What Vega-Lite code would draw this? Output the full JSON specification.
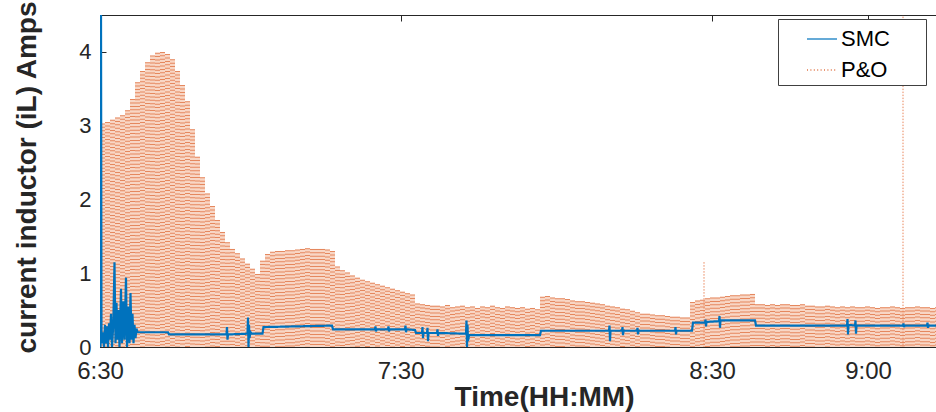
{
  "$schema": "https://vega.github.io/schema/vega-lite/v6.json",
  "width": 836,
  "height": 332,
  "autosize": {"type": "none"},
  "padding": {"left": 100, "top": 15, "right": 0, "bottom": 65},
  "background": "white",
  "datasets": {
    "po": [
      {"t":0.5,"P&O":3.03},{"t":1.5,"P&O":3.05},{"t":2.5,"P&O":3.08},{"t":3.5,"P&O":3.11},{"t":4.5,"P&O":3.14},{"t":5.5,"P&O":3.21},{"t":6.5,"P&O":3.36},{"t":7.5,"P&O":3.59},{"t":8.5,"P&O":3.74},{"t":9.5,"P&O":3.86},{"t":10.5,"P&O":3.95},{"t":11.5,"P&O":3.99},{"t":12.5,"P&O":4.0},{"t":13.5,"P&O":3.97},{"t":14.5,"P&O":3.9},{"t":15.5,"P&O":3.74},{"t":16.5,"P&O":3.55},{"t":17.5,"P&O":3.33},{"t":18.5,"P&O":2.95},{"t":19.5,"P&O":2.58},{"t":20.5,"P&O":2.3},{"t":21.5,"P&O":2.08},{"t":22.5,"P&O":1.91},{"t":23.5,"P&O":1.72},{"t":24.5,"P&O":1.56},{"t":25.5,"P&O":1.42},{"t":26.5,"P&O":1.33},{"t":27.5,"P&O":1.27},{"t":28.5,"P&O":1.2},{"t":29.5,"P&O":1.13},{"t":30.5,"P&O":1.06},{"t":31.5,"P&O":0.99},{"t":32.5,"P&O":1.17},{"t":33.5,"P&O":1.26},{"t":34.5,"P&O":1.29},{"t":35.5,"P&O":1.3},{"t":36.5,"P&O":1.3},{"t":37.5,"P&O":1.31},{"t":38.5,"P&O":1.31},{"t":39.5,"P&O":1.32},{"t":40.5,"P&O":1.33},{"t":41.5,"P&O":1.34},{"t":42.5,"P&O":1.33},{"t":43.5,"P&O":1.33},{"t":44.5,"P&O":1.33},{"t":45.5,"P&O":1.32},{"t":46.5,"P&O":1.3},{"t":47.5,"P&O":1.09},{"t":48.5,"P&O":1.04},{"t":49.5,"P&O":1.01},{"t":50.5,"P&O":0.97},{"t":51.5,"P&O":0.94},{"t":52.5,"P&O":0.91},{"t":53.5,"P&O":0.89},{"t":54.5,"P&O":0.87},{"t":55.5,"P&O":0.85},{"t":56.5,"P&O":0.83},{"t":57.5,"P&O":0.81},{"t":58.5,"P&O":0.79},{"t":59.5,"P&O":0.77},{"t":60.5,"P&O":0.75},{"t":61.5,"P&O":0.73},{"t":62.5,"P&O":0.71},{"t":63.5,"P&O":0.59},{"t":64.5,"P&O":0.58},{"t":65.5,"P&O":0.57},{"t":66.5,"P&O":0.56},
      {"t":67.5,"P&O":0.56},{"t":68.5,"P&O":0.55},{"t":69.5,"P&O":0.57},{"t":70.5,"P&O":0.54},{"t":71.5,"P&O":0.55},{"t":72.5,"P&O":0.56},{"t":73.5,"P&O":0.54},{"t":74.5,"P&O":0.55},{"t":75.5,"P&O":0.53},{"t":76.5,"P&O":0.55},{"t":77.5,"P&O":0.54},{"t":78.5,"P&O":0.56},{"t":79.5,"P&O":0.54},{"t":80.5,"P&O":0.53},{"t":81.5,"P&O":0.55},{"t":82.5,"P&O":0.54},{"t":83.5,"P&O":0.53},{"t":84.5,"P&O":0.54},{"t":85.5,"P&O":0.52},{"t":86.5,"P&O":0.53},
      {"t":87.5,"P&O":0.51},{"t":88.5,"P&O":0.68},{"t":89.5,"P&O":0.69},{"t":90.5,"P&O":0.67},{"t":91.5,"P&O":0.66},{"t":92.5,"P&O":0.66},{"t":93.5,"P&O":0.65},{"t":94.5,"P&O":0.63},{"t":95.5,"P&O":0.62},{"t":96.5,"P&O":0.62},{"t":97.5,"P&O":0.61},{"t":98.5,"P&O":0.6},{"t":99.5,"P&O":0.59},{"t":100.5,"P&O":0.58},{"t":101.5,"P&O":0.56},{"t":102.5,"P&O":0.55},{"t":103.5,"P&O":0.54},{"t":104.5,"P&O":0.52},{"t":105.5,"P&O":0.51},{"t":106.5,"P&O":0.49},{"t":107.5,"P&O":0.47},{"t":108.5,"P&O":0.45},{"t":109.5,"P&O":0.45},{"t":110.5,"P&O":0.44},{"t":111.5,"P&O":0.43},{"t":112.5,"P&O":0.43},{"t":113.5,"P&O":0.42},{"t":114.5,"P&O":0.41},{"t":115.5,"P&O":0.41},{"t":116.5,"P&O":0.4},{"t":117.5,"P&O":0.4},{"t":118.5,"P&O":0.61},{"t":119.5,"P&O":0.63},{"t":120.5,"P&O":0.64},{"t":121.5,"P&O":0.66},{"t":122.5,"P&O":0.67},{"t":123.5,"P&O":0.67},{"t":124.5,"P&O":0.68},{"t":125.5,"P&O":0.69},{"t":126.5,"P&O":0.7},{"t":127.5,"P&O":0.7},{"t":128.5,"P&O":0.71},{"t":129.5,"P&O":0.71},{"t":130.5,"P&O":0.72},{"t":131.5,"P&O":0.58},
      {"t":132.5,"P&O":0.58},{"t":133.5,"P&O":0.57},{"t":134.5,"P&O":0.58},{"t":135.5,"P&O":0.57},{"t":136.5,"P&O":0.58},{"t":137.5,"P&O":0.58},{"t":138.5,"P&O":0.57},{"t":139.5,"P&O":0.57},{"t":140.5,"P&O":0.58},{"t":141.5,"P&O":0.56},{"t":142.5,"P&O":0.56},{"t":143.5,"P&O":0.55},{"t":144.5,"P&O":0.55},{"t":145.5,"P&O":0.56},{"t":146.5,"P&O":0.55},{"t":147.5,"P&O":0.54},{"t":148.5,"P&O":0.55},{"t":149.5,"P&O":0.54},{"t":150.5,"P&O":0.55},{"t":151.5,"P&O":0.54},{"t":152.5,"P&O":0.54},{"t":153.5,"P&O":0.55},{"t":154.5,"P&O":0.54},{"t":155.5,"P&O":0.53},{"t":156.5,"P&O":0.54},{"t":157.5,"P&O":0.54},{"t":158.5,"P&O":0.55},{"t":159.5,"P&O":0.54},{"t":160.5,"P&O":0.53},{"t":161.5,"P&O":0.54},{"t":162.5,"P&O":0.54},{"t":163.5,"P&O":0.55},{"t":164.5,"P&O":0.54},{"t":165.5,"P&O":0.54},{"t":166.5,"P&O":0.53},{"t":167.5,"P&O":0.54}
    ],
    "spk": [
      {"t":120.8,"v":1.15},{"t":160.6,"v":4.6}
    ],
    "smc": [
      {"t":0.0,"SMC":4.6},{"t":0.1,"SMC":0.0},{"t":0.2,"SMC":4.6},{"t":0.3,"SMC":0.05},{"t":0.6,"SMC":0.2},{"t":0.8,"SMC":0.0},{"t":1.0,"SMC":0.3},{"t":1.2,"SMC":0.05},{"t":1.4,"SMC":0.28},{"t":1.6,"SMC":0.0},{"t":1.8,"SMC":0.32},{"t":2.0,"SMC":0.1},{"t":2.2,"SMC":0.45},{"t":2.4,"SMC":0.0},{"t":2.66,"SMC":0.3},{"t":2.9,"SMC":1.15},{"t":3.1,"SMC":0.05},{"t":3.3,"SMC":0.6},{"t":3.5,"SMC":0.1},{"t":3.7,"SMC":0.5},{"t":3.9,"SMC":0.0},{"t":4.2,"SMC":0.79},{"t":4.4,"SMC":0.05},{"t":4.7,"SMC":0.62},{"t":4.9,"SMC":0.1},{"t":5.2,"SMC":0.94},{"t":5.4,"SMC":0.0},{"t":5.7,"SMC":0.55},{"t":5.9,"SMC":0.05},{"t":6.1,"SMC":0.73},{"t":6.3,"SMC":0.1},{"t":6.5,"SMC":0.45},{"t":6.7,"SMC":0.05},{"t":6.9,"SMC":0.3},{"t":7.1,"SMC":0.12},{"t":7.3,"SMC":0.25},{"t":7.5,"SMC":0.2},
      {"t":13.6,"SMC":0.2},{"t":13.8,"SMC":0.17},{"t":25.3,"SMC":0.17},{"t":25.4,"SMC":0.27},{"t":25.5,"SMC":0.1},{"t":25.6,"SMC":0.17},{"t":29.5,"SMC":0.18},{"t":29.6,"SMC":0.4},{"t":29.7,"SMC":0.0},{"t":29.8,"SMC":0.3},{"t":29.9,"SMC":0.12},{"t":30.1,"SMC":0.2},{"t":30.3,"SMC":0.18},{"t":32.5,"SMC":0.18},{"t":32.7,"SMC":0.27},
      {"t":46.4,"SMC":0.29},{"t":46.6,"SMC":0.24},{"t":55.0,"SMC":0.24},{"t":55.1,"SMC":0.28},{"t":55.2,"SMC":0.21},{"t":55.3,"SMC":0.24},{"t":57.6,"SMC":0.24},{"t":57.7,"SMC":0.28},{"t":57.8,"SMC":0.21},{"t":57.9,"SMC":0.24},{"t":61.0,"SMC":0.24},{"t":61.1,"SMC":0.29},{"t":61.2,"SMC":0.2},{"t":61.3,"SMC":0.24},{"t":63.0,"SMC":0.23},{"t":63.2,"SMC":0.19},{"t":64.4,"SMC":0.19},{"t":64.5,"SMC":0.27},{"t":64.6,"SMC":0.12},{"t":64.7,"SMC":0.19},{"t":65.4,"SMC":0.19},{"t":65.5,"SMC":0.26},{"t":65.6,"SMC":0.08},{"t":65.7,"SMC":0.19},{"t":67.4,"SMC":0.19},{"t":67.5,"SMC":0.24},{"t":67.6,"SMC":0.15},{"t":67.7,"SMC":0.19},
      {"t":73.2,"SMC":0.18},{"t":73.3,"SMC":0.36},{"t":73.4,"SMC":0.0},{"t":73.5,"SMC":0.3},{"t":73.6,"SMC":0.08},{"t":73.8,"SMC":0.16},{"t":88.0,"SMC":0.16},{"t":88.2,"SMC":0.22},
      {"t":101.8,"SMC":0.22},{"t":101.9,"SMC":0.29},{"t":102.0,"SMC":0.08},{"t":102.1,"SMC":0.22},{"t":104.4,"SMC":0.22},{"t":104.5,"SMC":0.27},{"t":104.6,"SMC":0.16},{"t":104.7,"SMC":0.22},{"t":107.4,"SMC":0.22},{"t":107.5,"SMC":0.26},{"t":107.6,"SMC":0.17},{"t":107.7,"SMC":0.22},{"t":115.0,"SMC":0.22},{"t":115.1,"SMC":0.27},{"t":115.2,"SMC":0.17},{"t":115.3,"SMC":0.22},{"t":118.4,"SMC":0.22},{"t":118.6,"SMC":0.33},
      {"t":121.0,"SMC":0.33},{"t":121.1,"SMC":0.37},{"t":121.2,"SMC":0.28},{"t":121.3,"SMC":0.34},{"t":123.8,"SMC":0.35},{"t":123.9,"SMC":0.42},{"t":124.0,"SMC":0.26},{"t":124.1,"SMC":0.36},{"t":131.0,"SMC":0.36},{"t":131.2,"SMC":0.29},
      {"t":149.4,"SMC":0.29},{"t":149.5,"SMC":0.38},{"t":149.6,"SMC":0.17},{"t":149.7,"SMC":0.3},{"t":151.0,"SMC":0.29},{"t":151.1,"SMC":0.36},{"t":151.2,"SMC":0.18},{"t":151.3,"SMC":0.29},{"t":160.6,"SMC":0.29},{"t":160.7,"SMC":0.32},{"t":160.8,"SMC":0.27},{"t":160.9,"SMC":0.29},{"t":165.4,"SMC":0.29},{"t":165.5,"SMC":0.33},{"t":165.6,"SMC":0.26},{"t":165.7,"SMC":0.29},{"t":167.2,"SMC":0.29}
    ]
  },
  "resolve": {"axis": {"x": "independent"}},
  "layer": [
    {
      "data": {"name": "po"},
      "mark": {"type": "rule", "strokeWidth": 5, "color": "#f8d6c5", "clip": true},
      "encoding": {
        "x": {
          "field": "t", "type": "quantitative", "title": "Time(HH:MM)",
          "scale": {"domain": [0, 167.2], "nice": false, "zero": false},
          "axis": {
            "values": [0, 60.14, 122.4, 153.6],
            "labelExpr": "datum.value < 30 ? '6:30' : datum.value < 90 ? '7:30' : datum.value < 140 ? '8:30' : '9:00'",
            "labelFlush": false, "labelOverlap": false,
            "labelFontSize": 24, "labelPadding": 18,
            "titleFontSize": 28, "titleX": 444, "titleY": 58, "titleBaseline": "alphabetic", "titleAlign": "center"
          }
        },
        "y": {
          "field": "P&O", "type": "quantitative", "title": "current inductor (iL) Amps",
          "scale": {"domain": [0, 4.5], "nice": false},
          "axis": {
            "values": [0, 1, 2, 3, 4], "format": "d",
            "labelFontSize": 22, "labelPadding": 15,
            "titleFontSize": 28, "titleX": -73, "titleY": 162, "titleAngle": 270, "titleBaseline": "middle", "titleAlign": "center"
          }
        },
        "y2": {"datum": 0}
      }
    },
    {
      "data": {"name": "po"},
      "transform": [{"fold": ["P&O"], "as": ["s", "v"]}],
      "mark": {"type": "rule", "strokeWidth": 5, "opacity": 0.6, "clip": true},
      "encoding": {
        "x": {"field": "t", "type": "quantitative", "axis": null},
        "y": {"field": "v", "type": "quantitative", "title": "current inductor (iL) Amps"},
        "y2": {"datum": 0},
        "color": {"field": "s", "type": "nominal", "scale": {"domain": ["SMC", "P&O"], "range": ["#0072BD", "#D95319"]}, "legend": {"title": "\u2800\u2800", "titleOrient": "right", "titlePadding": 0, "titleColor": "white"}},
        "strokeDash": {"field": "s", "type": "nominal", "scale": {"domain": ["SMC", "P&O"], "range": [[1, 0], [1, 2.4]]}, "legend": {"title": "\u2800\u2800", "titleOrient": "right", "titlePadding": 0, "titleColor": "white"}}
      }
    },
    {
      "data": {"name": "spk"},
      "mark": {"type": "rule", "strokeWidth": 1, "strokeDash": [1.5, 1.5], "color": "#e9865c", "clip": true},
      "encoding": {
        "x": {"field": "t", "type": "quantitative", "axis": null},
        "y": {"field": "v", "type": "quantitative", "title": "current inductor (iL) Amps"},
        "y2": {"datum": 0}
      }
    },
    {
      "data": {"name": "smc"},
      "transform": [{"fold": ["SMC"], "as": ["s", "v"]}],
      "mark": {"type": "line", "strokeWidth": 2.2, "clip": true},
      "encoding": {
        "x": {"field": "t", "type": "quantitative", "axis": null},
        "y": {"field": "v", "type": "quantitative", "title": "current inductor (iL) Amps"},
        "color": {"field": "s", "type": "nominal", "legend": {"title": "\u2800\u2800", "titleOrient": "right", "titlePadding": 0, "titleColor": "white"}},
        "strokeDash": {"field": "s", "type": "nominal", "legend": {"title": "\u2800\u2800", "titleOrient": "right", "titlePadding": 0, "titleColor": "white"}}
      }
    },
    {
      "data": {"name": "spk"},
      "mark": {"type": "rule", "strokeWidth": 0, "opacity": 0, "clip": true},
      "encoding": {
        "x": {
          "field": "t", "type": "quantitative",
          "axis": {"orient": "top", "values": [0, 60.14, 122.4, 153.6], "labels": false, "domain": false, "title": null, "tickSize": -6}
        },
        "y": {"field": "v", "type": "quantitative", "title": "current inductor (iL) Amps"},
        "y2": {"datum": 0}
      }
    }
  ],
  "config": {
    "font": "Liberation Sans",
    "view": {"stroke": "#262626", "strokeWidth": 1},
    "axis": {
      "grid": false,
      "domainColor": "#262626",
      "tickColor": "#262626",
      "tickSize": -6,
      "labelColor": "#262626",
      "titleColor": "#262626",
      "labelFont": "Liberation Sans",
      "titleFont": "Liberation Sans",
      "titleFontWeight": "bold"
    },
    "legend": {
      "orient": "none",
      "legendX": 678,
      "legendY": 4,
      "fillColor": "white",
      "strokeColor": "#404040",
      "padding": 4,
      "symbolOffset": 24,
      "symbolType": "stroke",
      "symbolSize": 900,
      "symbolStrokeWidth": 2,
      "labelFont": "Liberation Sans",
      "labelFontSize": 22,
      "labelColor": "#000000",
      "labelOffset": 3,
      "rowPadding": 4,
      "titleFontSize": 22
    }
  }
}
